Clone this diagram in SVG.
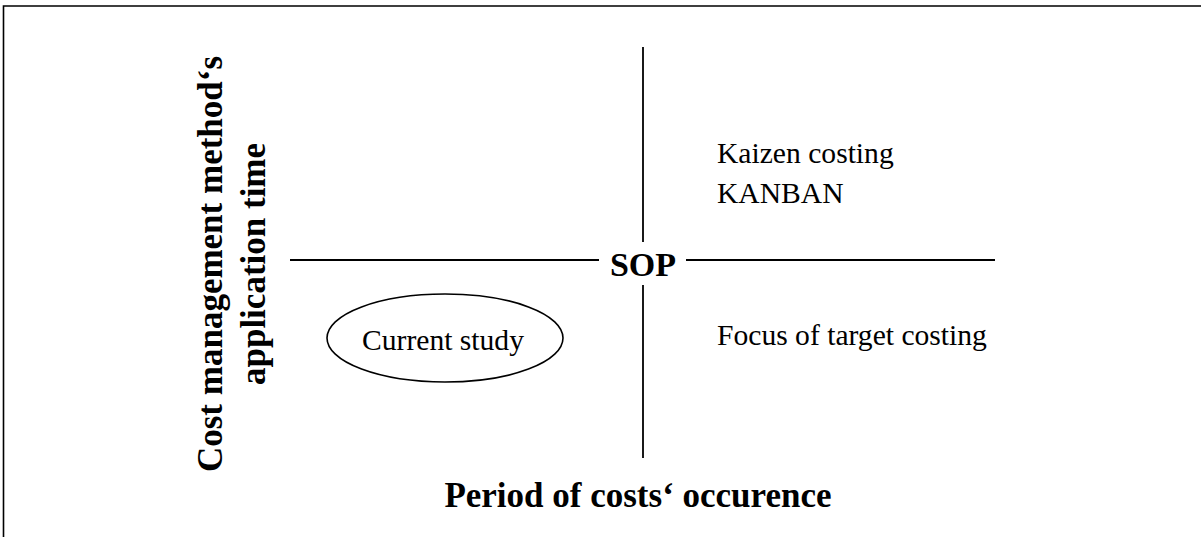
<svg xmlns="http://www.w3.org/2000/svg" width="1201" height="537" viewBox="0 0 1201 537">
<style>
.ax{stroke:#000;stroke-width:1.8;fill:none}
.t{font-family:"Liberation Serif","Times New Roman",serif;fill:#000}
.r{font-size:29.6px}
.b{font-weight:bold;font-size:35px}
</style>
<rect width="1201" height="537" fill="#fff"/>
<path id="frame" d="M3.5,537 V6 H1201" stroke="#000" stroke-width="1.6" fill="none"/>
<g id="connectors">
<line class="ax" x1="643" y1="47" x2="643" y2="242"/>
<line class="ax" x1="643" y1="285" x2="643" y2="458"/>
<line class="ax" x1="290" y1="260" x2="599" y2="260"/>
<line class="ax" x1="686" y1="260" x2="995" y2="260"/>
</g>
<g id="sop"><text class="t b" x="643" y="276" text-anchor="middle" style="font-size:34px">SOP</text></g>
<g id="current-study">
<ellipse cx="445" cy="338" rx="118" ry="44" stroke="#000" stroke-width="1.6" fill="none"/>
<text class="t r" x="443" y="350" text-anchor="middle">Current study</text>
</g>
<g id="kaizen">
<text class="t r" x="717" y="163">Kaizen costing</text>
<text class="t r" x="717" y="203">KANBAN</text>
</g>
<g id="focus"><text class="t r" x="717" y="345">Focus of target costing</text></g>
<g id="x-axis-label"><text class="t b" x="638" y="507" text-anchor="middle">Period of costs‘ occurence</text></g>
<g id="y-axis-label">
<text class="t b" transform="translate(222,264) rotate(-90)" text-anchor="middle">Cost management method‘s</text>
<text class="t b" transform="translate(265,264) rotate(-90)" text-anchor="middle">application time</text>
</g>
</svg>
